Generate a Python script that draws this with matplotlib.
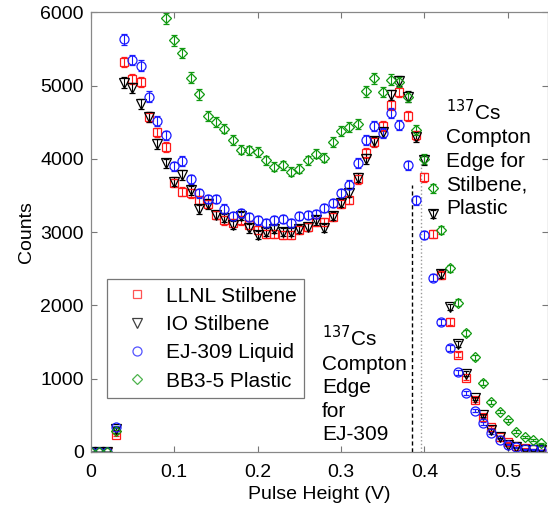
import numpy as np
import matplotlib
matplotlib.use('Agg')
import matplotlib.pyplot as plt
from matplotlib.lines import Line2D

plt.rcParams['font.family'] = ['Liberation Sans', 'DejaVu Sans']

# pulse height bins (V)
pulse_height = [0.00, 0.01, 0.02, 0.03, 0.04, 0.05, 0.06, 0.07, 0.08, 0.09,
                0.10, 0.11, 0.12, 0.13, 0.14, 0.15, 0.16, 0.17, 0.18, 0.19,
                0.20, 0.21, 0.22, 0.23, 0.24, 0.25, 0.26, 0.27, 0.28, 0.29,
                0.30, 0.31, 0.32, 0.33, 0.34, 0.35, 0.36, 0.37, 0.38, 0.39,
                0.40, 0.41, 0.42, 0.43, 0.44, 0.45, 0.46, 0.47, 0.48, 0.49,
                0.50, 0.51, 0.52, 0.53, 0.54]

llnl_stilbene = [0, 0, 0, 230, 5320, 5090, 5050, 4570, 4360, 4160,
                 3670, 3550, 3530, 3440, 3390, 3230, 3160, 3120, 3160, 3100,
                 3030, 2980, 2980, 2960, 2960, 3030, 3070, 3140, 3140, 3210,
                 3390, 3440, 3720, 4080, 4230, 4450, 4740, 4910, 4590, 4320,
                 3750, 2970, 2410, 1780, 1330, 1010, 710, 480, 340, 210,
                 130, 80, 50, 36, 27]

io_stilbene = [0, 0, 0, 320, 5040, 4970, 4750, 4570, 4200, 3940,
               3690, 3780, 3570, 3310, 3380, 3230, 3190, 3100, 3220, 3050,
               2960, 3000, 3040, 3000, 3000, 3040, 3070, 3160, 3060, 3220,
               3400, 3540, 3740, 4000, 4240, 4360, 4870, 5060, 4850, 4300,
               3980, 3250, 2430, 1980, 1470, 1070, 730, 500, 300, 200,
               95, 64, 25, 23, 23]

ej309_liquid = [0, 0, 0, 340, 5630, 5350, 5270, 4850, 4520, 4320,
                3900, 3970, 3720, 3530, 3450, 3450, 3320, 3220, 3260, 3210,
                3160, 3130, 3160, 3180, 3120, 3220, 3230, 3250, 3330, 3400,
                3530, 3650, 3945, 4255, 4445, 4350, 4630, 4460, 3910, 3436,
                2960, 2380, 1770, 1420, 1090, 810, 564, 390, 260, 165,
                100, 64, 36, 36, 27]

# first bins above 6000 are off the plotted range
bb35_plastic = [0, 0, 0, 280, np.nan, np.nan, np.nan, np.nan, np.nan, 5920,
                5620, 5445, 5110, 4880, 4580, 4505, 4414, 4255, 4127, 4118,
                4095, 3982, 3891, 3914, 3823, 3868, 3982, 4073, 4018, 4230,
                4385, 4440, 4478, 4920, 5100, 4914, 5082, 5050, 4845, 4390,
                4000, 3600, 3030, 2505, 2036, 1618, 1291, 945, 686, 550,
                436, 277, 209, 164, 118]

labels = ['LLNL Stilbene', 'IO Stilbene', 'EJ-309 Liquid', 'BB3-5 Plastic']

edge_ej309 = 0.385
edge_ej309_top = 3640
edge_stilbene = 0.396
edge_stilbene_top = 3990

fig = plt.figure(figsize=(5.48, 5.07), dpi=100)
ax = fig.add_axes([0.1655, 0.1085, 0.8345, 0.8672])

x = np.array(pulse_height)
series = [np.array(llnl_stilbene, float), np.array(io_stilbene, float),
          np.array(ej309_liquid, float), np.array(bb35_plastic, float)]
markers = ['s', 'v', 'o', 'D']
sizes = [6, 6.5, 6.5, 5]
colors = ['#ff1a1a', '#000000', '#1a1aff', '#119911']

for y, m, s, c in zip(series, markers, sizes, colors):
    ax.errorbar(x, y, yerr=np.sqrt(y), fmt=m, ms=s, mfc='none', mec=c,
                mew=0.9, ecolor=c, elinewidth=0.8, capsize=2.5, capthick=0.8)

ax.plot([edge_ej309, edge_ej309], [0, edge_ej309_top], color='black',
        ls='--', lw=1.0, dashes=(3, 2))
ax.plot([edge_stilbene, edge_stilbene], [0, edge_stilbene_top], color='#999999',
        ls=':', lw=1.0)

ax.text(0.426, 4820, '$^{137}$Cs\nCompton\nEdge for\nStilbene,\nPlastic',
        fontsize=15, ha='left', va='top', linespacing=1.3)
ax.text(0.277, 1730, '$^{137}$Cs\nCompton\nEdge\nfor\nEJ-309',
        fontsize=15, ha='left', va='top', linespacing=1.3)

handles = [Line2D([], [], ls='none', marker=m, ms=s, mfc='none', mec=c, mew=0.9, alpha=0.75)
           for m, s, c in zip(markers, sizes, colors)]
leg = ax.legend(handles, labels, loc='upper left', bbox_to_anchor=(0.035, 0.3928),
                borderaxespad=0, fontsize=15, frameon=True, fancybox=False,
                handlelength=2.2, handletextpad=0.3, borderpad=0.35, labelspacing=0.45)
leg.get_frame().set_edgecolor('#555555')
leg.get_frame().set_linewidth(0.9)

ax.set_xlim(0, 0.548)
ax.set_ylim(0, 6000)
ax.set_xticks([0, 0.1, 0.2, 0.3, 0.4, 0.5])
ax.set_xticklabels(['0', '0.1', '0.2', '0.3', '0.4', '0.5'])
ax.set_yticks([0, 1000, 2000, 3000, 4000, 5000, 6000])
ax.tick_params(direction='in', top=True, right=True, length=4, width=0.8,
               color='#777777', labelsize=14)
ax.tick_params(axis='x', pad=9)
ax.tick_params(axis='y', pad=5)
for sp in ax.spines.values():
    sp.set_color('#888888')
    sp.set_linewidth(0.9)

ax.set_xlabel('Pulse Height (V)', fontsize=14, labelpad=3)
ax.set_ylabel('Counts', fontsize=14, labelpad=4)

fig.savefig('out.png', dpi=100)
